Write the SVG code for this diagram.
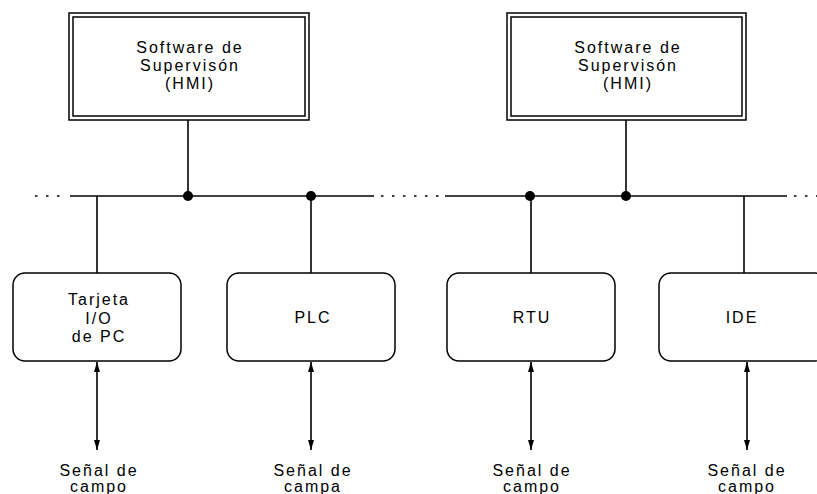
<svg xmlns="http://www.w3.org/2000/svg" width="817" height="494" viewBox="0 0 817 494">
<style>
.ln{stroke:#000;stroke-width:1.6;fill:none}
.bx{stroke:#000;stroke-width:1.5;fill:#fff}
.dt{stroke:#000;stroke-width:1.6;stroke-dasharray:2.5 8.5;fill:none}
text{font-family:"Liberation Sans","DejaVu Sans",sans-serif;font-size:16px;letter-spacing:2px;fill:#000;text-anchor:middle}
</style>
<defs>
<marker id="ah" viewBox="0 0 10 6" refX="10" refY="3" markerWidth="10" markerHeight="6" markerUnits="userSpaceOnUse" orient="auto-start-reverse">
<path d="M0,0 L10,3 L0,6 Z" fill="#000"/>
</marker>
</defs>
<g id="connectors">
<path class="dt" d="M35,196 H66"/>
<path class="ln" d="M70,196 H374"/>
<path class="dt" d="M381,196 H442"/>
<path class="ln" d="M445,196 H787"/>
<path class="dt" d="M794,196 H817"/>
<path class="ln" d="M188,120 V196"/>
<path class="ln" d="M626,120 V196"/>
<path class="ln" d="M97,196 V273"/>
<path class="ln" d="M311,196 V273"/>
<path class="ln" d="M531,196 V273"/>
<path class="ln" d="M744,196 V273"/>
<circle cx="188" cy="196" r="5" fill="#000"/>
<circle cx="311" cy="196" r="5" fill="#000"/>
<circle cx="530" cy="196" r="5" fill="#000"/>
<circle cx="626" cy="196" r="5" fill="#000"/>
<path class="ln" d="M97,362 V450" marker-start="url(#ah)" marker-end="url(#ah)"/>
<path class="ln" d="M311,362 V450" marker-start="url(#ah)" marker-end="url(#ah)"/>
<path class="ln" d="M531,362 V450" marker-start="url(#ah)" marker-end="url(#ah)"/>
<path class="ln" d="M747,362 V450" marker-start="url(#ah)" marker-end="url(#ah)"/>
</g>
<g id="hmi1">
<rect class="bx" x="69" y="13" width="240" height="107"/>
<rect class="bx" x="73" y="17" width="232" height="99"/>
<text x="190" y="53">Software de</text>
<text x="190" y="71">Supervisón</text>
<text x="190" y="89">(HMI)</text>
</g>
<g id="hmi2">
<rect class="bx" x="507" y="13" width="239" height="107"/>
<rect class="bx" x="511" y="17" width="231" height="99"/>
<text x="628" y="53">Software de</text>
<text x="628" y="71">Supervisón</text>
<text x="628" y="89">(HMI)</text>
</g>
<g id="tarjeta">
<rect class="bx" x="13" y="273" width="168" height="88" rx="12"/>
<text x="99" y="305">Tarjeta</text>
<text x="99" y="324">I/O</text>
<text x="99" y="342">de PC</text>
</g>
<g id="plc">
<rect class="bx" x="227" y="273" width="168" height="88" rx="12"/>
<text x="313" y="323">PLC</text>
</g>
<g id="rtu">
<rect class="bx" x="447" y="273" width="168" height="88" rx="12"/>
<text x="532" y="323">RTU</text>
</g>
<g id="ide">
<rect class="bx" x="659" y="273" width="168" height="88" rx="12"/>
<text x="742" y="323">IDE</text>
</g>
<g id="senal1">
<text x="99" y="476">Señal de</text>
<text x="99" y="492">campo</text>
</g>
<g id="senal2">
<text x="313" y="476">Señal de</text>
<text x="313" y="492">campa</text>
</g>
<g id="senal3">
<text x="532" y="476">Señal de</text>
<text x="532" y="492">campo</text>
</g>
<g id="senal4">
<text x="747" y="476">Señal de</text>
<text x="747" y="492">campo</text>
</g>
</svg>
